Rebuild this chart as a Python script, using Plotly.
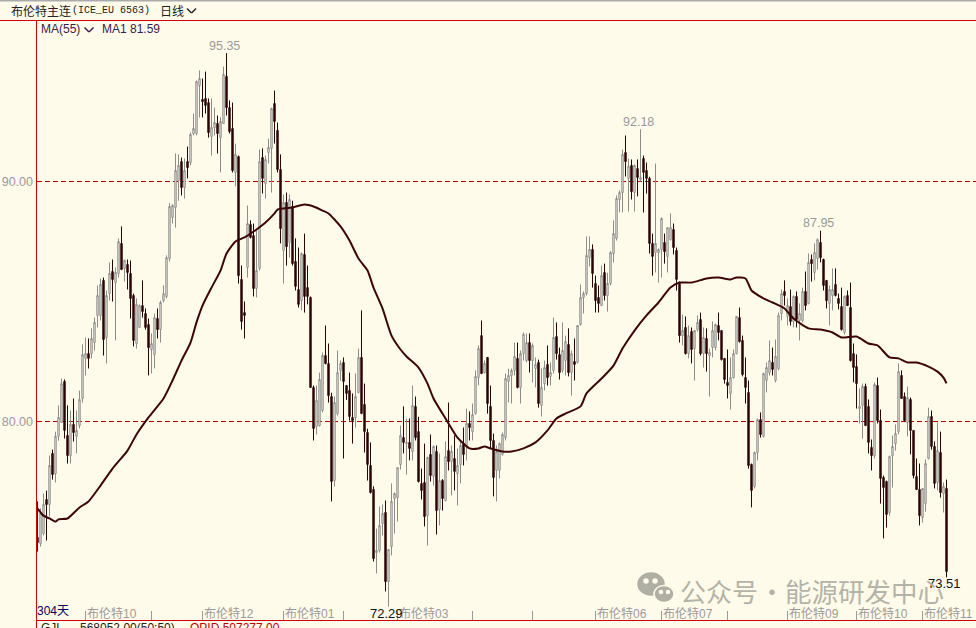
import plotly.graph_objects as go

opens = [75.17,74.92,75.33,76.75,76.54,78.67,77.83,79.38,79.96,81.67,
79.42,78.58,79.88,79.38,79.83,80.96,82.63,82.83,82.83,83.29,
84.42,84.42,85.88,83.5,85.33,86.25,85.79,86.17,87.42,86.38,
86.54,86.17,85.25,83.25,83.92,84.83,84.5,84.04,83.0,82.79,
84.29,83.83,85.04,85.21,86.79,88.5,88.92,90.04,90.83,89.75,
90.83,90.79,92,92,94.0,93.42,93.46,93.29,91.88,92.25,
92.42,91.83,92.42,94.38,93.08,92.21,90.38,91.04,85.92,84.54,
86.42,88.21,87.75,85.54,86.38,91,89.92,91.21,91.38,93.25,
92.13,90.5,87.13,89.13,87.46,88.96,86.67,85.5,85.04,86.96,
85.58,85.17,81.42,79.79,79.83,80.46,82.75,82.42,
81.04,77.54,80.33,82.13,82.46,81.5,81.29,80.17,80.17,81.21,
82.67,80.71,79.54,78.17,77.17,74.54,74.63,75.75,76.21,73.33,
74.79,76.79,76.83,78.21,79.33,79.08,79.13,78.75,80.63,79.58,
77.42,77.46,76.08,78.63,77.71,78.75,76.33,77.54,76.71,78.79,
78.33,78.46,77.83,78.21,79.08,79,79.92,79.58,80.33,81.83,
83.58,82.04,82.67,80.63,79.21,77.96,77.96,78.63,79.33,81.67,
81.92,82.13,82.63,81.42,82.83,82.54,83.29,82.54,82.21,82.46,
80.67,81.58,82.38,81.88,82.13,83.54,82.79,82.13,82.54,83.21,
82.04,82.5,82.46,84.04,85.17,85.33,86.83,87.17,85.75,85.17,
84.83,86.21,85.25,85.75,87.0,87.63,89.25,89.54,91.21,90.13,
90.67,89.54,90.54,90.08,90.96,90.46,90.13,87.42,87.04,87.04,
87.17,87.46,86.88,87.58,88,87.13,85.79,83.58,83.92,82.83,
83.75,83.04,83.83,84.25,82.83,83.46,82.75,83.08,83.08,84,
83.79,82.63,81.63,81.17,81.83,82.83,84.33,83.38,81.83,81.21,
78.21,77.29,78.71,80.08,79.38,81.71,82.04,82.46,81.71,82.21,
84.5,85.42,84.38,84.79,84.17,85.21,84.21,84.21,85.42,84.92,
86.75,86.21,86.79,87.46,86.75,85.88,84.92,85.25,85.71,85.13,
84.79,83.71,85.25,84.75,82.83,82.29,80.54,80.67,81.46,80.63,
78.92,78.58,81.5,80.04,77.67,77.5,76.21,78.58,79.08,79.58,
81.92,81.04,79.96,80.92,79.63,77.71,77.17,76,76.58,78.46,
80.21,78.96,77.46,78.71,77,77.21]

highs = [76.67,76.38,77.0,77.12,78.58,78.83,79.58,80.67,81.79,81.75,
80.67,80.46,80.96,80.46,81.29,83.21,83.5,83.46,83.88,84.33,
85.67,85.96,86,85.46,86.63,86.75,86.42,87.63,88.13,86.75,
86.75,86.71,85.33,85.13,84.88,85.88,84.71,84.29,83.67,84.5,
84.71,85.04,85.67,86.92,89.1,89.05,91.17,91.13,91,90.96,
91.46,92.04,92.83,94.21,94.63,94.29,94.58,93.46,93.46,93.08,
92.75,92.67,94.79,95.35,93.38,93.29,91.58,91.08,86.5,85,
89,88.38,88.25,87.96,91.33,91.38,91.08,91.79,93.08,93.79,
92.46,91.13,89.46,89.54,89.46,89.2,87.63,87.25,87.04,87.83,
86.5,85.21,81.5,81.5,82.04,82.88,84,83.25,
81.2,81.04,82.96,82.54,82.67,81.5,82.04,81.17,82,83.04,
84.63,81.58,79.7,79.13,77.3,75.54,76.46,76.54,76.71,74.67,
77.42,77.04,78.08,79.83,80.63,80.13,80.13,81.5,81.04,80.2,
78.04,79.08,78.54,79.46,79,79,78.67,77.6,79.17,80.79,
79,79.42,78.88,79.2,79.75,80.54,80.42,80.75,82.13,83.17,
84.21,82.54,82.67,81.5,79.5,79,79.13,79.54,82,82.2,
82.21,83.29,83.29,82.96,83.71,83.67,83.67,83.25,82.67,82.58,
82.21,82.54,83.17,82.46,84.33,84.13,83.08,84.13,83.58,83.88,
82.96,83.46,84,85.71,85.42,87.71,87.71,87.38,86.08,85.67,
86.5,86.58,86.2,87.1,88.38,89.42,89.63,91.33,91.92,90.96,
90.92,90.71,90.92,92.18,91.08,90.79,90.2,87.83,90.75,87.21,
88.5,87.83,88.08,88.67,88.25,87.25,85.83,84.46,84.38,84,
83.92,83.8,84.42,84.54,83.92,83.88,83.04,84.17,84.08,84.54,
83.8,82.63,83,82.67,83,84.38,84.75,83.58,82.67,81.71,
78.25,78.75,80.13,80.38,82.04,82.46,83.38,83.08,83.42,84.54,
85.5,85.88,85.13,85.5,85.25,85.42,84.92,85.58,86.25,87,
86.96,87.42,87.63,87.95,86.79,85.88,85.67,86.38,86.38,85.33,
85.58,85.25,85.46,85.79,83.25,82.8,81.38,81.58,81.58,80.92,
79.25,81.63,81.83,80.5,77.75,77.54,78.58,79.42,79.88,82.42,
82.13,81.21,81.46,81,79.63,78.46,78.25,77.21,78.42,80.58,
80.46,79.17,79.96,79.58,77.46,77.58]

lows = [74.58,74.79,75.25,75.04,76.04,77.58,77.46,79.2,79.96,79.29,
78.25,78.25,79.17,78.67,79.71,80.79,81.92,82.21,82.63,82.96,
83.92,84.21,82.75,82.42,85.04,85.0,83.38,86.0,86.33,85.83,
85.5,84.29,83.13,83.04,83.9,84.33,83.83,81.92,82,82.21,
83.46,83.29,84.96,85.13,86.67,88.25,88.08,89.2,89.42,89.29,
90.13,90.67,91.92,91.92,92.67,92.67,92.83,91.83,91.08,91.92,
91.17,90.38,92.42,92.75,92,90.38,89.8,85.75,83.83,83.46,
86,87.63,85.21,85.17,86.29,89.5,89.29,90.75,89.54,91.58,
90.38,87.42,85.75,86.5,86.83,86.5,85.46,84.75,84.63,84.54,
84.88,81.42,79.21,79.46,79.79,80.38,82.38,80.79,
76.67,77.29,80.25,81.7,78.46,80.9,80.04,79.08,79.75,81.17,
80.33,78.71,77.54,77.0,74.17,73.67,74.54,75.25,72.92,72.29,
74.42,75.33,75.83,78.0,78.67,77.79,78.38,78.38,79.21,77.46,
76.75,75.63,74.83,77.5,77.33,75.29,75.67,76.29,76.67,77.96,
76.92,77.13,76.5,77.42,78.17,78.38,79.21,79.21,80.29,81.5,
82,82,80.33,78.9,76.88,76.67,77.63,78.58,79.21,80.79,
80.75,81.92,81.38,80.75,82.54,82.46,82.04,81.63,81.42,80.58,
80.21,81.29,81.5,81.5,82,82.58,81.75,82.04,81.92,81.88,
81.08,81.71,82.42,84,84.5,85.25,86.46,85.58,84.54,84.54,
84.83,85.04,84.58,85.67,86.63,87.54,88.71,88.71,90.21,88.75,
89.25,88.75,89.38,90.0,88.71,89.5,87.0,86.08,86.21,85.79,
86.0,86.58,86.21,87.54,86.96,85.46,83.29,83.17,82.79,82.63,
82.42,81.71,83.75,82.75,82.25,82.08,81.04,82.67,82.96,83.38,
82.54,81.58,80.96,80.5,81.79,82.8,83.29,81.88,80.75,78.04,
76.42,77.21,78.38,79.33,79.33,81.21,81.92,81.92,81.63,82.13,
84.21,84.83,84,84,83.92,83.92,83.38,84.13,84.63,84.88,
85.83,85.88,86.33,86.63,85.46,84.71,84,84.63,85.21,84.67,
83.79,83.63,84.83,82.5,81.63,80.54,79.92,79.29,79.83,78.67,
77.96,78.46,79.92,76.58,75.13,75.58,76.08,77.25,78.79,79.46,
80.96,80,79.38,78.63,77.63,77.17,75.67,75.79,76.25,78.42,
78.83,77.21,77.13,76.83,76.21,73.51]

closes = [74.96,76.17,76.54,76.54,78.17,77.79,79.38,80.17,81.58,79.63,
78.58,79.88,79.54,79.63,80.92,82.79,82.83,82.63,83.46,84.13,
85.25,85.71,83.42,85.25,86.17,85.92,86.21,87.5,86.33,86.71,
86.21,85.13,83.38,84.88,84.83,84.58,83.92,83.08,83.25,84.33,
83.83,84.96,85.33,86.83,88.96,89.0,90.46,90.67,89.75,90.46,
90.58,91.96,92.21,94.17,94.29,93.33,93.17,92.04,92.25,92.46,
92,92.5,94.46,93.08,92.08,90.46,91.13,86.08,84.17,84.42,
88.25,87.67,85.54,86.29,90.83,90.13,90.92,91.42,93.04,92.5,
90.5,88.04,89.13,87.29,89.25,86.58,85.63,84.88,87,85.21,
85.21,81.42,79.71,80.88,81.75,82.75,82.42,81.08,
77.5,80.79,82.04,82.42,81.67,81.17,80.21,80.04,81.04,82.67,
80.33,79.58,78.21,77.04,74.29,74.63,75.67,76.17,73.33,74.67,
76.67,77.0,78.08,79.42,79.13,79.13,78.88,80.67,79.33,77.5,
77.13,76.04,78.5,77.75,78.96,76.29,77.54,76.79,78.54,78.33,
78.75,77.92,78.17,79.0,78.63,79.92,79.75,80.29,81.88,83.04,
82,82.42,80.75,79.21,77.67,78.75,79.08,79.46,81.79,81.92,
82.13,82.71,81.42,82.83,83.63,83.29,82.54,83.17,82.38,80.75,
81.42,82.25,81.83,82.04,83.5,82.83,82.04,82.96,83.33,82.04,
82.83,82.38,84,85.17,85.33,86.92,87.17,86.17,85.04,84.92,
86.08,85.25,85.75,87.04,87.83,89.29,89.54,91.13,90.83,90.63,
89.58,90.67,90.17,90.17,90.38,90.13,87.42,86.88,87.42,87.17,
88.46,87.08,88.08,88.08,87.25,85.92,83.58,83.79,82.83,83.58,
83,83.79,84.13,82.83,83.5,82.83,82.88,83.79,84.04,83.71,
82.58,81.75,81.5,81.83,82.83,84.38,83.33,81.96,81.42,78.17,
77.13,78.71,80.08,79.46,82,82.25,82.54,82.17,82.71,84.42,
85.33,85.25,84.83,84.17,85.21,84.25,84.5,85.42,84.83,86.63,
86.58,87.04,87.58,86.83,85.67,85.04,85.5,85.5,85.25,84.92,
83.83,85.21,84.83,82.54,82.25,81.58,80.63,81.46,79.83,79.13,
78.58,81.54,80.04,77.63,77.25,76.13,78.54,78.96,79.5,82.08,
80.96,80.04,81,79.63,77.75,77.17,76.08,77.21,78.25,80.21,
78.96,77.42,78.79,77.04,77.29,73.75]

assert len(opens) == len(highs) == len(lows) == len(closes) == 304

ma_index = [0,2,4,6,7,10,14,17,21,25,30,33,37,42,45,48,51,53,55,58,61,63,66,69,73,76,79,80,85,89,92,95,97,
101,104,107,110,112,115,118,121,123,127,130,132,135,137,140,144,147,149,151,155,158,162,166,170,173,176,
181,183,188,192,195,199,203,207,211,214,218,223,227,231,233,236,238,242,245,249,252,257,261,265,268,273,
277,280,284,287,290,293,297,300,302,303]
ma_values = [76.38,76.08,75.96,75.83,75.92,75.96,76.42,76.67,77.33,78.04,78.79,79.46,80.17,80.96,81.71,82.54,
83.29,84.13,84.83,85.58,86.29,87.0,87.5,87.67,88.0,88.29,88.67,88.83,88.92,89.04,88.96,88.79,88.67,
88.13,87.54,86.79,86.29,85.58,84.71,83.58,83.0,82.71,82.25,81.58,80.96,80.33,79.92,79.33,78.88,78.88,
78.96,78.88,78.75,78.75,78.88,79.13,79.63,80.13,80.33,80.63,81.17,81.79,82.33,83.04,83.79,84.42,84.96,
85.58,85.79,85.79,85.96,86.0,85.92,86.0,85.96,85.46,85.13,84.96,84.71,84.29,83.88,83.83,83.71,83.5,83.54,
83.25,83.17,82.67,82.63,82.46,82.46,82.29,82.08,81.83,81.59]

tick_index = [16,38,55,82,102,120,145,165,186,208,230,250,273,295]
month_index = [16,55,82,120,186,208,250,273,295]
month_labels = ["布伦特10","布伦特12","布伦特01","布伦特03","布伦特06","布伦特07","布伦特09","布伦特10","布伦特11"]
peak_index = [63,201,261]
peak_values = [95.35,92.18,87.95]
trough_index = [117,303]
trough_values = [72.29,73.51]
price_levels = [80, 90]

BG = "#FFFBEA"
RED = "#D00000"
DARK = "#2A0505"
GREY = "#8C8C8C"
LABEL = "#9A9A9A"
CJK = "Liberation Sans, Noto Sans CJK SC"
W, H = 976, 628
L, R, T, B = 37, 0, 20, 8

px = lambda x: (x - L) / (W - L - R)
py = lambda y: 1 - (y - T) / (H - T - B)

fig = go.Figure()
fig.add_trace(go.Candlestick(
    x=list(range(len(opens))), open=opens, high=highs, low=lows, close=closes,
    increasing=dict(line=dict(color=GREY, width=1), fillcolor=BG),
    decreasing=dict(line=dict(color=DARK, width=1), fillcolor=DARK),
    whiskerwidth=0, hoverinfo="skip", showlegend=False))
fig.add_trace(go.Scatter(x=ma_index, y=ma_values, mode="lines",
                         line=dict(color="#3C0606", width=2, shape="spline", smoothing=0.6),
                         hoverinfo="skip", showlegend=False))


def note(x, y, text, color=LABEL, size=12, family=CJK, anchor="left", xref="paper", yref="paper", **kw):
    if anchor == "left":
        kw.setdefault("xshift", -2)
    fig.add_annotation(x=x, y=y, xref=xref, yref=yref, text=text, showarrow=False,
                       font=dict(color=color, size=size, family=family),
                       xanchor=anchor, yanchor=kw.pop("yanchor", "middle"), align="left", **kw)


for x, text in zip(month_index, month_labels):
    note(x, py(613), text, xref="x", xshift=-1)
for x, v in zip(peak_index, peak_values):
    note(x, v, f"{v:.2f}", size=12.5, xref="x", yref="y", anchor="center", yanchor="bottom", xshift=-2, yshift=-1.5)
for x, v in zip(trough_index, trough_values):
    note(x, v, f"{v:.2f}", color="#111111", size=13, xref="x", yref="y", anchor="center", yanchor="top", xshift=-2, yshift=3)

note(px(11), py(10), "布伦特主连", color="#222222", size=12, family="Noto Sans CJK SC")
note(px(72), py(10), "(ICE_EU 6563)", color="#222222", size=10, family="Liberation Mono")
note(px(160), py(10), "日线", color="#222222", size=12, family="Noto Sans CJK SC")
note(px(41), py(29), "MA(55)", color="#3A2050", size=12)
note(px(102), py(29), "MA1 81.59", color="#3A2050", size=12)
note(px(37), py(611), "304天", color="#000060", size=12)
note(px(41), py(628), "GJL", color="#222222", size=12)
note(px(80), py(628), "568052.00(50:50)", color="#222222", size=12)
note(px(190), py(628), "OPID 507277.00", color="#C00000", size=12)
note(px(680), py(590), "公众号", color="#B4B3A8", size=26, family="Noto Sans CJK SC")
note(px(759), py(590), "·", color="#B4B3A8", size=26, family="Noto Sans CJK SC")
note(px(785), py(590), "能源研发中心", color="#B4B3A8", size=26.5, family="Noto Sans CJK SC")


def line(x0, y0, x1, y1, color=RED, width=1):
    fig.add_shape(type="line", xref="paper", yref="paper", x0=px(x0), y0=py(y0), x1=px(x1), y1=py(y1),
                  line=dict(color=color, width=width), layer="above")


def blob(cx, cy, rx, ry, color, border=None):
    fig.add_shape(type="circle", xref="paper", yref="paper",
                  x0=px(cx - rx), x1=px(cx + rx), y0=py(cy + ry), y1=py(cy - ry),
                  fillcolor=color, line=dict(color=border or color, width=1.5), layer="above")


for level in price_levels:
    fig.add_shape(type="line", xref="paper", yref="y", x0=0, x1=1, y0=level, y1=level,
                  line=dict(color="#B00000", width=1, dash="5px,3px"), layer="below")
line(0, 20.5, 976, 20.5)
line(37, 620.5, 976, 620.5)
line(36.5, 20, 36.5, 628)
line(0, 0.5, 976, 0.5, color="#ABABAB", width=2)
for cx, cy, col in [(89, 30, "#3A2050"), (191.5, 11, "#222222")]:
    line(cx - 4.5, cy - 2.5, cx, cy + 2, color=col, width=1.4)
    line(cx, cy + 2, cx + 4.5, cy - 2.5, color=col, width=1.4)
blob(651, 584, 13, 11, "#B0AFA4")
blob(664, 594, 10, 8.5, "#B0AFA4", border=BG)
for ex, ey, r, c in [(646, 581, 2, BG), (655, 581, 2, BG), (661, 592, 1.5, BG), (668, 592, 1.5, BG)]:
    blob(ex, ey, r, r, c)

fig.update_layout(
    width=W, height=H, margin=dict(l=L, r=R, t=T, b=B, pad=0, autoexpand=False),
    paper_bgcolor=BG, plot_bgcolor=BG, boxgap=0.34, hovermode=False, dragmode=False,
    font=dict(family=CJK, size=12, color=LABEL),
    xaxis=dict(range=[-0.17, 312.83], type="linear", rangeslider=dict(visible=False), showgrid=False, zeroline=False,
               showline=False, tickmode="array", tickvals=tick_index, ticktext=[""] * len(tick_index),
               ticks="inside", ticklen=9, tickcolor=LABEL, tickwidth=1),
    yaxis=dict(range=[71.73, 96.73], tickmode="array", tickvals=price_levels, tickformat=".2f", showgrid=False,
               zeroline=False, showline=False,
               ticks="", tickfont=dict(color=LABEL, size=12.5), ticklabelstandoff=3),
)
fig.write_html("out.html", config={"displayModeBar": False},
               post_script="document.body.style.margin='0';document.body.style.overflow='hidden';")
